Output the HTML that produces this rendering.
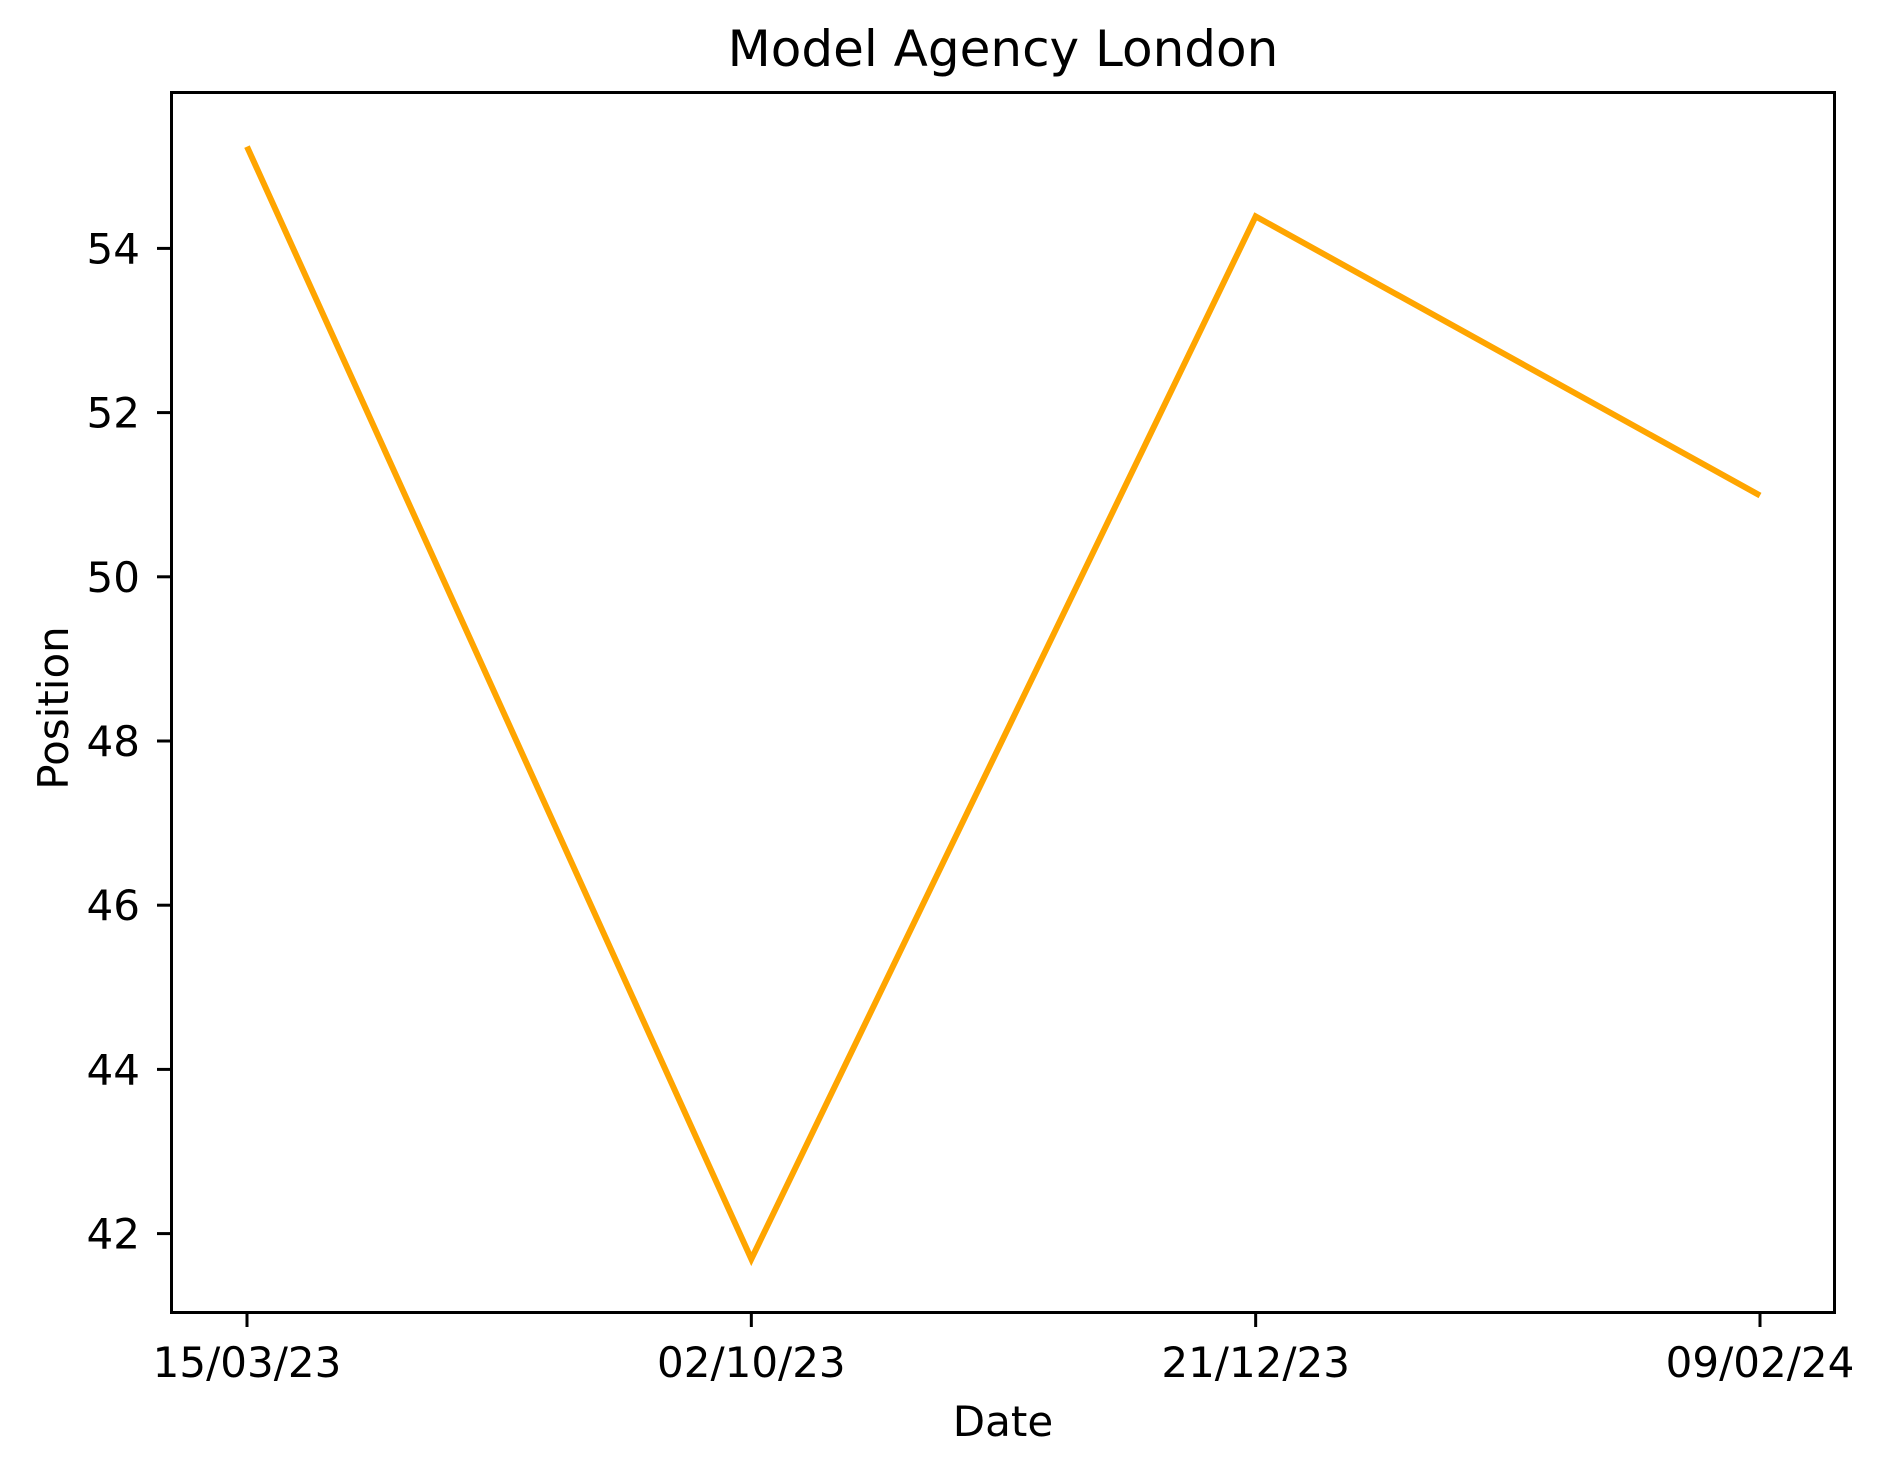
<!DOCTYPE html>
<html><head><meta charset="utf-8"><style>
body{margin:0;background:#fff}
svg{display:block;font-family:"DejaVu Sans","Liberation Sans",sans-serif}
</style></head><body>
<svg id="chart" width="1881" height="1473" viewBox="0 0 1881 1473">
<rect width="1881" height="1473" fill="#fff"/>
<text x="1003" y="66" font-size="50" text-anchor="middle">Model Agency London</text>
<g id="plot"></g>
<rect x="171.5" y="92.5" width="1663" height="1220" fill="none" stroke="#000" stroke-width="3"/>
<text x="1003" y="1436" font-size="42" text-anchor="middle">Date</text>
<text transform="translate(68,708) rotate(-90)" font-size="42" text-anchor="middle">Position</text>
</svg>
<script>
const categories = ["15/03/23","02/10/23","21/12/23","09/02/24"];
const positions = [55.24, 41.69, 54.39, 50.99];
const yTicks = [42,44,46,48,50,52,54];
const NS="http://www.w3.org/2000/svg";
const g=document.getElementById('plot');
function xs(i){return 247+i*(1760-247)/(categories.length-1);}
function ys(v){return 1233.6-(v-42)*(1233.6-248.4)/12;}
function mk(t,a){const e=document.createElementNS(NS,t);for(const k in a)e.setAttribute(k,a[k]);g.appendChild(e);return e;}
yTicks.forEach(v=>{
  const y=ys(v);
  const t=mk('line',{x1:157,x2:171,y1:y,y2:y,stroke:'#000','stroke-width':3});
  
  
  const l=mk('text',{x:140,y:y+15,'font-size':42,'text-anchor':'end'});
  l.textContent=v;
  
  
});
categories.forEach((c,i)=>{
  const x=xs(i);
  const t=mk('line',{x1:x,x2:x,y1:1312,y2:1327,stroke:'#000','stroke-width':3});
  
  
  const l=mk('text',{x:x,y:1377,'font-size':42,'text-anchor':'middle'});
  l.textContent=c;
  
  
});
const p=mk('polyline',{points:positions.map((v,i)=>xs(i)+','+ys(v)).join(' '),fill:'none',stroke:'#FFA500','stroke-width':6});


</script>
</body></html>
